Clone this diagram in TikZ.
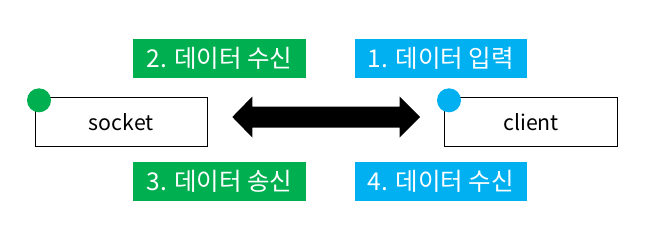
\documentclass[tikz,border=0pt]{standalone}
\usepackage{fontspec}
\setmainfont{Noto Sans CJK KR}
\definecolor{offgreen}{HTML}{00B050}
\definecolor{offblue}{HTML}{00B0F0}
\begin{document}
\begin{tikzpicture}[x=1pt,y=-1pt,
  box/.style={draw=black,line width=1pt,fill=white,minimum width=172.5pt,minimum height=49.3pt,inner sep=0pt,font=\fontsize{21.3}{25}\selectfont},
  tag/.style={minimum width=172.5pt,minimum height=38.7pt,inner sep=0pt,text=white,font=\fontsize{24.5}{28}\selectfont},
  dot/.style={circle,minimum size=24pt,inner sep=0pt}]
\useasboundingbox (0,0) rectangle (672,234);
\node[box] (socket) at (121.3,121.7) {socket};
\node[box] (client) at (531.2,121.7) {client};
\node[dot,fill=offgreen] (sdot) at (39,100.3) {};
\node[dot,fill=offblue] (cdot) at (449,100.3) {};
\node[tag,fill=offgreen] (t2) at (219.5,58.3) {2. 데이터 수신};
\node[tag,fill=offgreen] (t3) at (219.5,181.3) {3. 데이터 송신};
\node[tag,fill=offblue] (t1) at (440.8,58.3) {1. 데이터 입력};
\node[tag,fill=offblue] (t4) at (440.8,181.3) {4. 데이터 수신};
\coordinate (L) at (232.3,117);
\coordinate (R) at (420,117);
\fill[black] (L) -- ++(20,-20.5) -- ++(0,10) -- (399.7,106.5) -- ++(0,-10) -- (R) -- (399.7,137.5) -- ++(0,-10) -- (252.3,127.5) -- ++(0,10) -- cycle;
\end{tikzpicture}
\end{document}
